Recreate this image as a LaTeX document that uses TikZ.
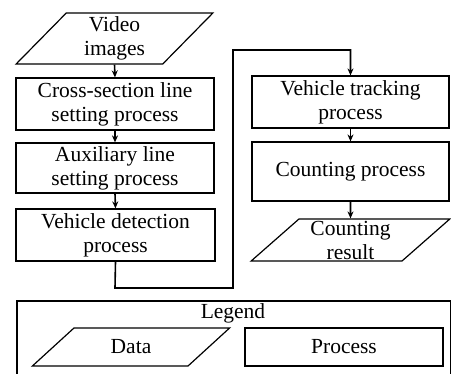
\documentclass[tikz,border=0pt]{standalone}
\usepackage{fontspec}
\setmainfont{Liberation Serif}
\usetikzlibrary{shapes.geometric,arrows.meta}
\begin{document}
\begin{tikzpicture}[x=1pt,y=1pt,
  every node/.style={font=\fontsize{21.5}{24}\selectfont, align=center, inner sep=0pt},
  procbox/.style={draw, line width=1.2pt, rectangle, minimum width=#1},
  procbox/.default=198,
  databox/.style={draw, line width=1.2pt, trapezium, trapezium stretches=true},
  conn/.style={line width=1.6pt, -{Stealth[length=7pt,width=6pt]}},
  plain/.style={line width=1.6pt}
]
\useasboundingbox (0,0) rectangle (451,-374);

% left column
\node[databox, trapezium left angle=54, trapezium right angle=126,
      minimum width=197, minimum height=51] (vid) at (114.5,-38.5) {Video\\images};
\node[procbox, minimum height=52] (b1) at (115,-104) {Cross-section line\\setting process};
\node[procbox, minimum height=50] (b2) at (115,-168) {Auxiliary line\\setting process};
\node[procbox=199, minimum height=52] (b3) at (115.5,-235) {Vehicle detection\\process};

% right column
\node[procbox=197, minimum height=52] (b4) at (350.5,-102) {Vehicle tracking\\process};
\node[procbox=197, minimum height=59] (b5) at (350.5,-171.5) {Counting process};
\node[databox, trapezium left angle=46, trapezium right angle=134,
      minimum width=199, minimum height=42] (res) at (350.5,-240) {Counting\\result};

% connectors
\draw[conn] (vid.south) -- (b1.north);
\draw[conn] (b1.south) -- (b2.north);
\draw[conn] (b2.south) -- (b3.north);
\coordinate (k1) at (115,-288);
\coordinate (k2) at (233,-288);
\coordinate (k3) at (233,-50);
\draw[conn] (b3.south) -- (k1) -- (k2) -- (k3) -| (b4.north);
\draw[conn] (b4.south) -- (b5.north);
\draw[conn] (b5.south) -- (res.north);

% legend
\node[draw, line width=2pt, rectangle, minimum width=434, minimum height=90,
      anchor=north west] (leg) at (16,-300) {};
\node (legt) at (233,-313) {Legend};
\node[databox, trapezium left angle=44, trapezium right angle=136,
      minimum width=198, minimum height=38] (ldata) at (131,-347) {Data};
\node[procbox, minimum height=38] (lproc) at (344,-347) {Process};
\end{tikzpicture}
\end{document}
